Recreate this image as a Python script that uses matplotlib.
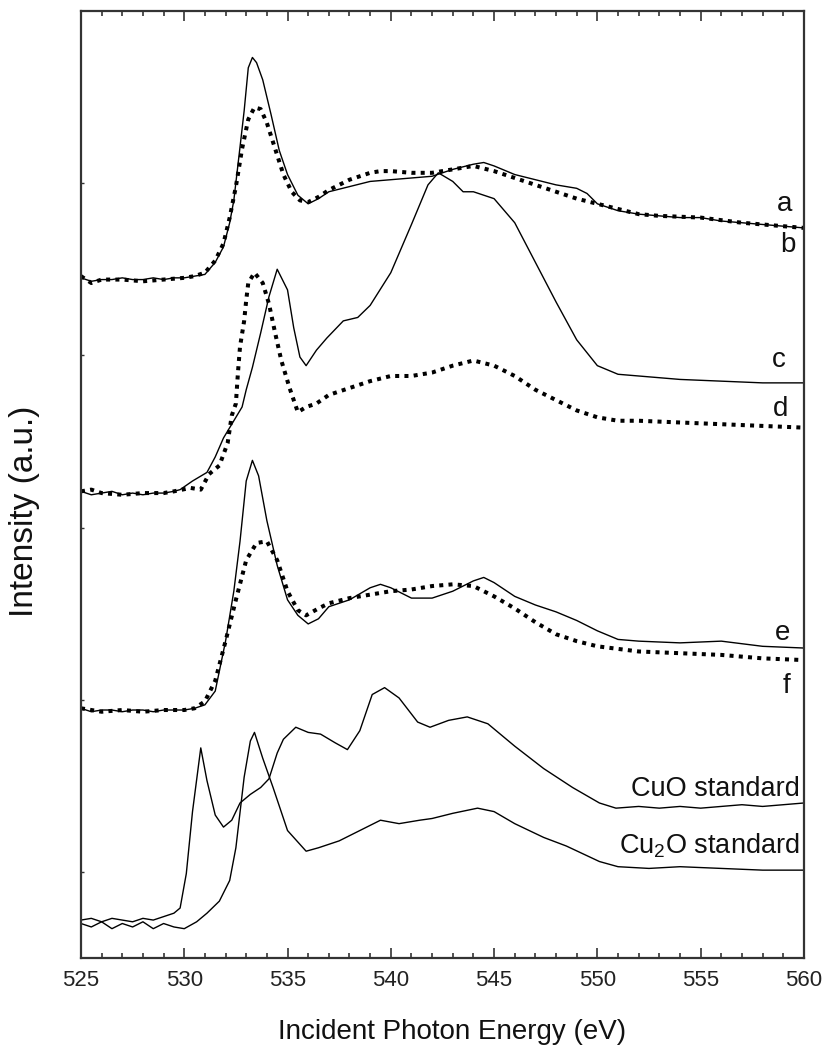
#!/usr/bin/env python3
import matplotlib
matplotlib.use('Agg')
import matplotlib.pyplot as plt
from matplotlib.ticker import MultipleLocator

plt.rcParams['font.family'] = ['Liberation Sans', 'DejaVu Sans']
plt.rcParams['mathtext.fontset'] = 'custom'
plt.rcParams['mathtext.rm'] = 'Liberation Sans'
plt.rcParams['mathtext.it'] = 'Liberation Sans:italic'

# O K-edge spectra, stacked (offsets already included)
a_x = [525, 525.5, 526, 526.5, 527, 527.5, 528, 528.5, 529, 529.5,
       530, 530.5, 531, 531.5, 531.9, 532.2, 532.4, 532.7, 532.9, 533.1,
       533.3, 533.5, 533.8, 534.2, 534.6, 535, 535.5, 536, 536.5, 537,
       538, 539, 540, 541, 542, 543, 544, 544.5, 545, 546,
       547, 548, 549, 549.5, 550, 551, 552, 553, 554, 555,
       556, 557, 558, 559, 560]
a_y = [3.45, 3.43, 3.44, 3.44, 3.45, 3.44, 3.44, 3.45, 3.44, 3.45,
       3.45, 3.46, 3.47, 3.54, 3.63, 3.77, 3.90, 4.21, 4.42, 4.67,
       4.73, 4.70, 4.60, 4.40, 4.19, 4.05, 3.93, 3.88, 3.91, 3.95,
       3.98, 4.01, 4.02, 4.03, 4.04, 4.08, 4.11, 4.12, 4.10, 4.05,
       4.02, 3.99, 3.97, 3.94, 3.88, 3.84, 3.82, 3.81, 3.80, 3.80,
       3.78, 3.77, 3.76, 3.75, 3.74]

b_x = [525, 525.5, 526, 527, 528, 529, 530, 530.5, 531, 531.5,
       531.9, 532.2, 532.5, 532.8, 533.1, 533.4, 533.7, 534, 534.4, 534.8,
       535.2, 535.6, 536, 536.5, 537, 538, 539, 539.5, 540, 541,
       542, 543, 544, 545, 546, 547, 548, 549, 550, 551,
       552, 553, 555, 557, 560]
b_y = [3.46, 3.42, 3.44, 3.44, 3.43, 3.44, 3.45, 3.46, 3.48, 3.55,
       3.65, 3.80, 3.98, 4.20, 4.37, 4.44, 4.43, 4.35, 4.20, 4.05,
       3.95, 3.90, 3.89, 3.92, 3.96, 4.02, 4.06, 4.07, 4.07, 4.06,
       4.06, 4.08, 4.10, 4.07, 4.03, 3.99, 3.95, 3.91, 3.88, 3.85,
       3.82, 3.81, 3.80, 3.77, 3.74]

c_x = [525, 525.5, 526, 526.5, 527, 527.5, 528, 528.5, 529, 529.5,
       529.8, 530.4, 531.1, 531.5, 531.9, 532.4, 532.8, 533, 533.3, 533.7,
       534.1, 534.5, 535, 535.3, 535.6, 535.9, 536.4, 536.9, 537.7, 538.4,
       539, 540, 541, 541.8, 542.3, 543, 543.5, 544, 545, 546,
       547, 548, 549, 550, 551, 552, 554, 556, 558, 560]
c_y = [2.21, 2.19, 2.20, 2.21, 2.19, 2.20, 2.19, 2.20, 2.20, 2.21,
       2.22, 2.27, 2.32, 2.41, 2.52, 2.62, 2.70, 2.80, 2.93, 3.13,
       3.34, 3.50, 3.38, 3.16, 2.99, 2.94, 3.03, 3.10, 3.20, 3.22,
       3.29, 3.48, 3.76, 3.99, 4.06, 4.01, 3.95, 3.95, 3.91, 3.77,
       3.54, 3.31, 3.09, 2.94, 2.89, 2.88, 2.86, 2.85, 2.84, 2.84]

d_x = [525, 525.5, 526, 527, 528, 529, 529.5, 530.3, 530.8, 531.2,
       531.7, 532.1, 532.3, 532.5, 532.6, 532.7, 532.9, 533, 533.1, 533.4,
       533.8, 534.1, 534.4, 534.7, 535.1, 535.5, 535.9, 536.4, 537, 538,
       539, 540, 541, 542, 543, 544, 545, 546, 547, 548,
       549, 550, 551, 552, 554, 556, 558, 560]
d_y = [2.21, 2.22, 2.20, 2.19, 2.20, 2.20, 2.21, 2.23, 2.22, 2.31,
       2.36, 2.49, 2.65, 2.72, 2.90, 3.05, 3.20, 3.32, 3.42, 3.48,
       3.42, 3.30, 3.13, 2.97, 2.81, 2.67, 2.70, 2.72, 2.77, 2.81,
       2.85, 2.88, 2.88, 2.90, 2.94, 2.97, 2.94, 2.88, 2.80, 2.74,
       2.68, 2.64, 2.62, 2.62, 2.61, 2.60, 2.59, 2.58]

e_x = [525, 525.5, 526, 526.5, 527, 527.5, 528, 528.5, 529, 529.5,
       530, 530.5, 531, 531.5, 532, 532.4, 532.7, 533, 533.3, 533.6,
       534, 534.5, 535, 535.5, 536, 536.5, 537, 538, 539, 539.5,
       540, 541, 542, 543, 544, 544.5, 545, 546, 547, 548,
       549, 550, 551, 552, 554, 556, 558, 560]
e_y = [0.95, 0.93, 0.94, 0.94, 0.93, 0.94, 0.94, 0.93, 0.94, 0.94,
       0.94, 0.95, 0.97, 1.05, 1.34, 1.63, 1.92, 2.27, 2.39, 2.30,
       2.04, 1.78, 1.58, 1.49, 1.44, 1.47, 1.54, 1.58, 1.65, 1.67,
       1.65, 1.59, 1.59, 1.63, 1.69, 1.71, 1.68, 1.60, 1.55, 1.51,
       1.46, 1.40, 1.35, 1.34, 1.33, 1.34, 1.31, 1.30]

f_x = [525, 525.5, 526, 527, 528, 529, 530, 530.5, 531, 531.5,
       532, 532.5, 533, 533.5, 534, 534.5, 535, 535.5, 535.9, 536.5,
       537, 538, 539, 540, 541, 542, 543, 544, 545, 546,
       547, 548, 549, 550, 552, 554, 556, 558, 560]
f_y = [0.95, 0.94, 0.93, 0.94, 0.93, 0.94, 0.94, 0.95, 0.99, 1.11,
       1.34, 1.58, 1.81, 1.91, 1.92, 1.81, 1.63, 1.52, 1.49, 1.53,
       1.56, 1.59, 1.61, 1.63, 1.64, 1.66, 1.67, 1.66, 1.60, 1.53,
       1.45, 1.38, 1.34, 1.31, 1.28, 1.27, 1.26, 1.24, 1.23]

cuo_x = [525, 525.5, 526, 526.5, 527, 527.5, 528, 528.5, 529, 529.5,
         529.8, 530.1, 530.4, 530.8, 531.1, 531.5, 531.9, 532.3, 532.7, 533.2,
         533.7, 534.1, 534.5, 534.8, 535.4, 536, 536.6, 537.3, 537.9, 538.5,
         539.1, 539.7, 540.4, 541.3, 541.9, 542.8, 543.7, 544.7, 546, 547.4,
         548.8, 550.1, 550.9, 552, 553, 554, 555, 556, 557, 558,
         559, 560]
cuo_y = [-0.28, -0.27, -0.29, -0.27, -0.28, -0.29, -0.27, -0.28, -0.26, -0.24,
         -0.21, -0.01, 0.35, 0.72, 0.53, 0.33, 0.26, 0.30, 0.40, 0.45,
         0.49, 0.54, 0.69, 0.77, 0.84, 0.81, 0.80, 0.75, 0.71, 0.82,
         1.03, 1.07, 1.01, 0.87, 0.84, 0.88, 0.90, 0.86, 0.73, 0.60,
         0.49, 0.40, 0.37, 0.38, 0.37, 0.38, 0.37, 0.38, 0.39, 0.38,
         0.39, 0.40]

cu2o_x = [525, 525.5, 526, 526.5, 527, 527.5, 528, 528.5, 529, 529.5,
          530, 530.6, 531.1, 531.7, 532.2, 532.5, 532.9, 533.2, 533.4, 533.8,
          534.3, 535, 535.9, 536.5, 537.5, 538.5, 539.5, 540.4, 541.4, 542,
          543, 544.2, 545, 546, 547.4, 548.5, 550.1, 551, 552.5, 554,
          556, 558, 560]
cu2o_y = [-0.30, -0.32, -0.29, -0.33, -0.30, -0.32, -0.29, -0.33, -0.30, -0.32,
          -0.33, -0.29, -0.24, -0.17, -0.05, 0.14, 0.55, 0.76, 0.81, 0.66,
          0.49, 0.24, 0.12, 0.14, 0.18, 0.24, 0.30, 0.28, 0.30, 0.31,
          0.34, 0.37, 0.35, 0.28, 0.20, 0.15, 0.06, 0.03, 0.02, 0.03,
          0.02, 0.01, 0.01]

fig = plt.figure(figsize=(8.22, 10.45), dpi=100)
ax = fig.add_axes([0.0985, 0.0833, 0.8795, 0.9062])

solid = dict(color='black', lw=1.0)
dots = dict(color='black', lw=2.9, linestyle=(0, (1, 1.3)), dash_capstyle='butt')

ax.plot(a_x, a_y, **solid)
ax.plot(b_x, b_y, **dots)
ax.plot(c_x, c_y, **solid)
ax.plot(d_x, d_y, **dots)
ax.plot(e_x, e_y, **solid)
ax.plot(f_x, f_y, **dots)
ax.plot(cuo_x, cuo_y, **solid)
ax.plot(cu2o_x, cu2o_y, **solid)

# curve labels
lab = dict(fontsize=20, color='#111111', ha='center', va='center')
ax.text(559.08, 3.88, 'a', **lab)
ax.text(559.23, 3.64, 'b', **lab)
ax.text(558.79, 2.97, 'c', **lab)
ax.text(558.89, 2.69, 'd', **lab)
ax.text(558.98, 1.39, 'e', **lab)
ax.text(559.18, 1.08, 'f', **lab)
ax.text(559.8, 0.48, 'CuO standard', fontsize=19.5, color='#111111', ha='right', va='center')
ax.text(559.8, 0.15, 'Cu$_\\mathrm{2}$O standard', fontsize=19.5, color='#111111', ha='right', va='center')

ax.set_xlim(525, 560)
ax.set_ylim(-0.5, 5.0)
ax.xaxis.set_major_locator(MultipleLocator(5))
ax.xaxis.set_minor_locator(MultipleLocator(1))
ax.set_yticks([0, 1, 2, 3, 4])
ax.set_yticklabels([])

ax.tick_params(axis='x', which='both', direction='in', top=True, bottom=True,
               width=1.2, color='#333333', labelsize=16, labelcolor='#222222', pad=9)
ax.tick_params(axis='x', which='major', length=7)
ax.tick_params(axis='x', which='minor', length=3.5)
ax.tick_params(axis='y', which='both', direction='in', left=True, right=False,
               length=2.5, width=1.0, color='#333333')

for sp in ax.spines.values():
    sp.set_linewidth(1.6)
    sp.set_color('#333333')

fig.text(452 / 822, 1 - 1039 / 1045, 'Incident Photon Energy (eV)',
         fontsize=20, color='#111111', ha='center', va='baseline')
fig.text(25 / 822, 1 - 511 / 1045, 'Intensity (a.u.)', rotation=90,
         fontsize=24, color='#111111', ha='center', va='center')

fig.savefig('out.png', dpi=100)
